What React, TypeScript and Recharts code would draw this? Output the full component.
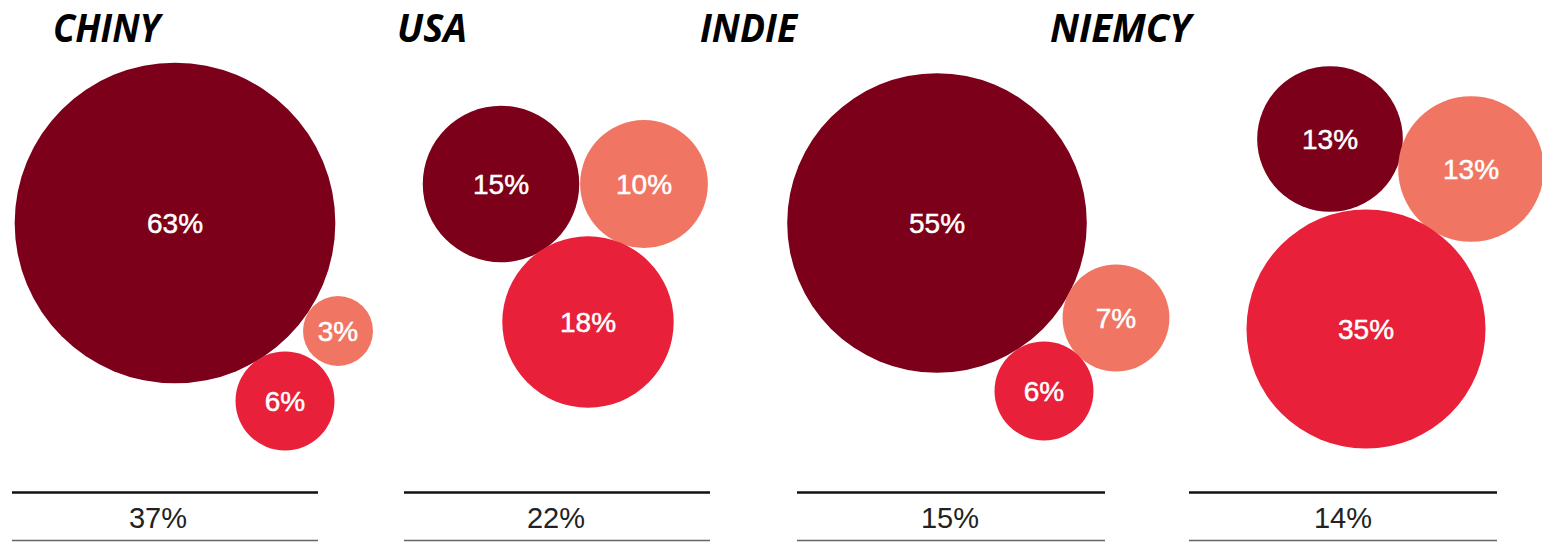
import { ScatterChart, Scatter, XAxis, YAxis, ZAxis } from 'recharts'

const countries = ['CHINY', 'USA', 'INDIE', 'NIEMCY']
const totals = ['37%', '22%', '15%', '14%']
const darkValues = [63, 15, 55, 13]
const salmonValues = [3, 10, 7, 13]
const redValues = [6, 18, 6, 35]

// layout: bubble centres in page pixels, one per country
const darkCenters = [[175, 223], [501, 184], [937, 223], [1330, 139]]
const salmonCenters = [[338, 331], [644, 184], [1116, 318], [1471, 169]]
const redCenters = [[285, 401], [588, 322], [1044, 391], [1366, 329]]

// layout: titles and footer rules
const titleX = [53, 397, 700, 1050]
const titleW = [107, 70, 97, 141]
const ruleX = [[12, 318], [404, 710], [797, 1105], [1189, 1497]]
const totalX = [158, 556, 950, 1343]

const W = 1542
const H = 542
const K = 20.2 // px radius per sqrt(percent)

const DARK = '#7c0019'
const SALMON = '#f07663'
const RED = '#e8203a'

const toPoints = (values: number[], centers: number[][]) =>
  values.map((v, i) => ({ x: centers[i][0], y: centers[i][1], value: v }))

const Bubble = (props: any) => {
  const { cx, cy, size, payload, fill } = props
  const r = Math.sqrt(size / Math.PI)
  return (
    <g>
      <circle cx={cx} cy={cy} r={r} fill={fill} />
      <text
        x={cx}
        y={cy}
        dy={10}
        textAnchor="middle"
        fill="#fff"
        stroke="#fff"
        strokeWidth={0.5}
        fontSize={28}
        fontFamily="Liberation Sans, Arial, sans-serif"
      >
        {payload.value}%
      </text>
    </g>
  )
}

export default function App() {
  return (
    <div style={{ position: 'absolute', left: 0, top: 0, width: W, height: H, background: '#fff' }}>
      <ScatterChart width={W} height={H} margin={{ top: 0, right: 0, bottom: 0, left: 0 }}>
        <XAxis type="number" dataKey="x" domain={[0, W]} hide />
        <YAxis type="number" dataKey="y" domain={[0, H]} reversed hide />
        <ZAxis type="number" dataKey="value" domain={[0, 100]} range={[0, Math.PI * K * K * 100]} />
        <Scatter data={toPoints(darkValues, darkCenters)} fill={DARK} shape={Bubble} isAnimationActive={false} />
        <Scatter data={toPoints(salmonValues, salmonCenters)} fill={SALMON} shape={Bubble} isAnimationActive={false} />
        <Scatter data={toPoints(redValues, redCenters)} fill={RED} shape={Bubble} isAnimationActive={false} />
      </ScatterChart>
      <svg width={W} height={H} style={{ position: 'absolute', left: 0, top: 0, pointerEvents: 'none' }}>
        {countries.map((c, i) => (
          <text
            key={c}
            x={titleX[i]}
            y={42}
            textLength={titleW[i]}
            lengthAdjust="spacingAndGlyphs"
            fontSize={40}
            fontWeight="bold"
            fontStyle="italic"
            fontFamily="Open Sans, sans-serif"
            fill="#000"
          >
            {c}
          </text>
        ))}
        {totals.map((t, i) => {
          const [x1, x2] = ruleX[i]
          return (
            <g key={i}>
              <line x1={x1} x2={x2} y1={492.5} y2={492.5} stroke="#111" strokeWidth={2.5} />
              <text
                x={totalX[i]}
                y={528}
                textAnchor="middle"
                fontSize={29}
                fontFamily="Liberation Sans, Arial, sans-serif"
                fill="#222"
              >
                {t}
              </text>
              <line x1={x1} x2={x2} y1={540.5} y2={540.5} stroke="#666" strokeWidth={1.5} />
            </g>
          )
        })}
      </svg>
    </div>
  )
}
